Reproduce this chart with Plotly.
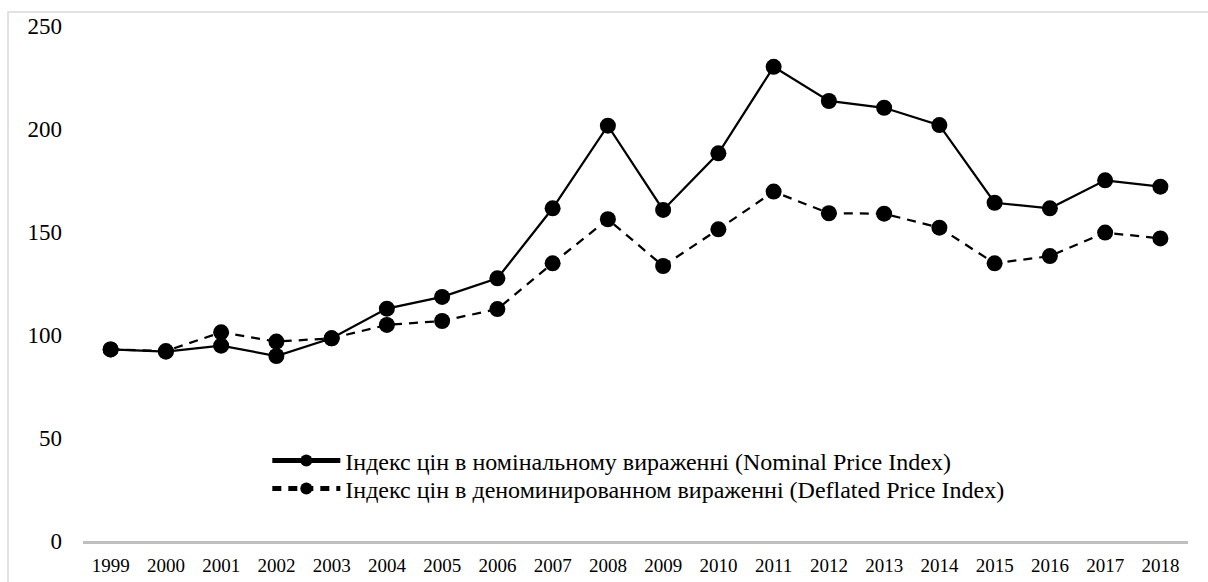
import plotly.graph_objects as go

years = [str(y) for y in range(1999, 2019)]
nominal = [93.0, 91.9, 94.8, 89.8, 98.4, 112.8, 118.5, 127.5, 161.5, 201.6,
           160.7, 188.2, 230.2, 213.6, 210.3, 201.9, 164.2, 161.5, 175.1, 172.0]
deflated = [93.0, 92.2, 101.3, 96.8, 98.4, 104.9, 106.8, 112.6, 134.8, 156.2,
            133.5, 151.3, 169.6, 159.1, 158.9, 152.1, 134.8, 138.3, 149.7, 146.9]
y_ticks = [0, 50, 100, 150, 200, 250]
name_nominal = "Індекс цін в номінальному вираженні (Nominal Price Index)"
name_deflated = "Індекс цін в деноминированном вираженні (Deflated Price Index)"

FONT = "Liberation Serif, Times New Roman, serif"

fig = go.Figure()
fig.add_trace(go.Scatter(
    x=years, y=nominal, name=name_nominal, mode="lines+markers",
    line=dict(color="black", width=2.25),
    marker=dict(color="black", size=16),
    legend="legend",
))
fig.add_trace(go.Scatter(
    x=years, y=deflated, name=name_deflated, mode="lines+markers",
    line=dict(color="black", width=2.25, dash="9px,7px"),
    marker=dict(color="black", size=16),
    legend="legend2",
))

legend_common = dict(
    xanchor="left", yanchor="middle",
    bgcolor="rgba(0,0,0,0)", font=dict(size=24, family=FONT),
    itemwidth=68, itemsizing="constant",
)

fig.update_layout(
    width=1208, height=582,
    margin=dict(l=83, r=20, t=26, b=41, autoexpand=False),
    paper_bgcolor="white", plot_bgcolor="white",
    font=dict(family=FONT, color="black", size=19),
    showlegend=True,
    legend=dict(x=0.1668, y=(541 - 461) / 515, **legend_common),
    legend2=dict(x=0.1668, y=(541 - 489) / 515, **legend_common),
    xaxis=dict(
        type="category", range=[-0.5, len(years) - 0.5],
        showgrid=False, zeroline=False, automargin=False,
        showline=True, linecolor="#bfbfbf", linewidth=3,
        ticks="", tickfont=dict(size=19, family=FONT),
        ticklabelstandoff=5,
    ),
    yaxis=dict(
        range=[0, 250], tickvals=y_ticks, showgrid=False, zeroline=False,
        showline=False, ticks="", tickfont=dict(size=23, family=FONT),
        ticklabelstandoff=20, automargin=False,
    ),
    shapes=[dict(
        type="rect", xref="paper", yref="paper",
        x0=(8 - 83) / 1105, x1=1.2, y0=-0.3, y1=(541 - 12) / 515,
        line=dict(color="#d9d9d9", width=1.5), layer="below",
    )],
)

fig.write_html("out.html", config={"displayModeBar": False},
               post_script="document.body.style.margin='0px';")
